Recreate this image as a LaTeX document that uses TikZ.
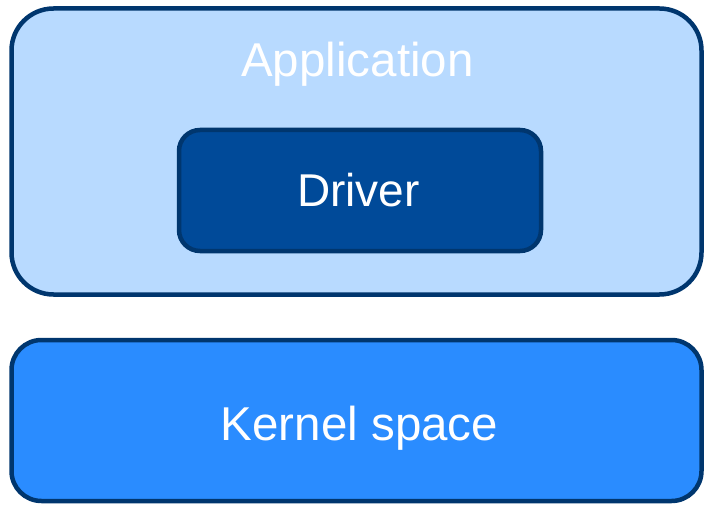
\documentclass[tikz,border=0pt]{standalone}
\usepackage{fontspec}
\setmainfont{Liberation Sans}
\definecolor{appfill}{RGB}{184,218,255}
\definecolor{edge}{RGB}{0,54,110}
\definecolor{drvfill}{RGB}{0,74,153}
\definecolor{kernfill}{RGB}{42,140,255}
\begin{document}
\begin{tikzpicture}[x=1pt,y=-1pt,
  layer/.style={draw=edge,line width=4.5pt,inner sep=0pt,minimum width=690pt},
  label/.style={text=white,anchor=base,inner sep=0pt,font=\fontsize{47.5}{57}\selectfont}]
\useasboundingbox (0,0) rectangle (704,505);
% application layer with the driver inside it
\node[layer,fill=appfill,rounded corners=42pt,minimum height=286pt] (app) at (356.5,151.5) {};
\node[label] (apptext) at (357.5,77) {Application};
\node[draw=edge,line width=4.5pt,fill=drvfill,rounded corners=21pt,inner sep=0pt,
      minimum width=362pt,minimum height=121pt] (drv) at (360,190.5) {};
\node[label,font=\fontsize{46}{55}\selectfont] (drvtext) at (358.5,207) {Driver};
% kernel layer below
\node[layer,fill=kernfill,rounded corners=30pt,minimum height=161pt] (kern) at (356.5,420.5) {};
\node[label] (kerntext) at (359.5,440) {Kernel space};
\end{tikzpicture}
\end{document}
